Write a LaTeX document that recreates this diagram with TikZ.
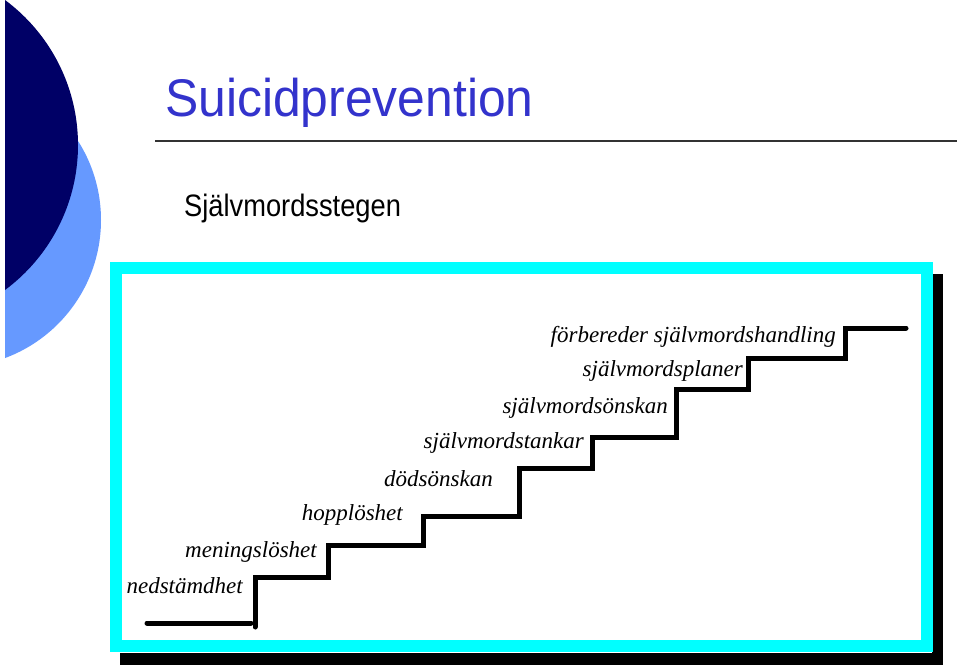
\documentclass[tikz,border=0pt]{standalone}
\usepackage{fontspec}
\setmainfont{Liberation Serif}
\setsansfont{Liberation Sans}
\definecolor{navy}{HTML}{000066}
\definecolor{lightblue}{HTML}{6699FF}
\definecolor{titleblue}{HTML}{3333CC}
\definecolor{frame}{HTML}{00FFFF}
\tikzset{
  steplabel/.style={anchor=base east, inner sep=0pt, font=\fontsize{23}{26}\selectfont\itshape},
  stairline/.style={line width=5pt, line cap=round, line join=miter},
}
\begin{document}
\begin{tikzpicture}[x=1pt,y=-1pt]
\useasboundingbox (0,0) rectangle (960,668);
\fill[white] (0,0) rectangle (960,668);
% left decorative circles
\begin{scope}
  \clip (5,0) rectangle (200,668);
  \fill[lightblue] (-46.2,220) circle (147.2);
  \fill[navy] (-102.5,145) circle (180.5);
\end{scope}
% title
\node[anchor=base west, inner sep=0pt, text=titleblue] (title) at (165,117)
  {\scalebox{0.94}[1]{\fontsize{53}{60}\sffamily Suicidprevention}};
\draw[line width=2pt, color=black!80] (155,141) -- (957,141);
\node[anchor=base west, inner sep=0pt] (sub) at (184,217)
  {\scalebox{0.88}[1]{\fontsize{31}{36}\sffamily Självmordsstegen}};
% frame with shadow
\fill[black] (120,274) rectangle (943,665);
\fill[white] (110,262) rectangle (932,653);
\draw[frame, line width=12pt] (116,268) rectangle (927,646);
% stairs
\draw[stairline] (147,623) -- (251,623);
\draw[stairline] (255,627) -- (255,577) -- (328,577) -- (328,545) -- (423,545)
  -- (423,516) -- (519,516) -- (519,468) -- (592,468) -- (592,437) -- (676,437)
  -- (676,389) -- (748,389) -- (748,358) -- (845,358) -- (845,328) -- (906,328);
% labels
\node[steplabel] (l1) at (243,593) {nedstämdhet};
\node[steplabel] (l2) at (317,557) {meningslöshet};
\node[steplabel] (l3) at (403,520) {hopplöshet};
\node[steplabel] (l4) at (493,486) {dödsönskan};
\node[steplabel] (l5) at (584,448) {självmordstankar};
\node[steplabel] (l6) at (668,413) {självmordsönskan};
\node[steplabel] (l7) at (743,376) {självmordsplaner};
\node[steplabel] (l8) at (836,342) {förbereder självmordshandling};
\end{tikzpicture}
\end{document}
